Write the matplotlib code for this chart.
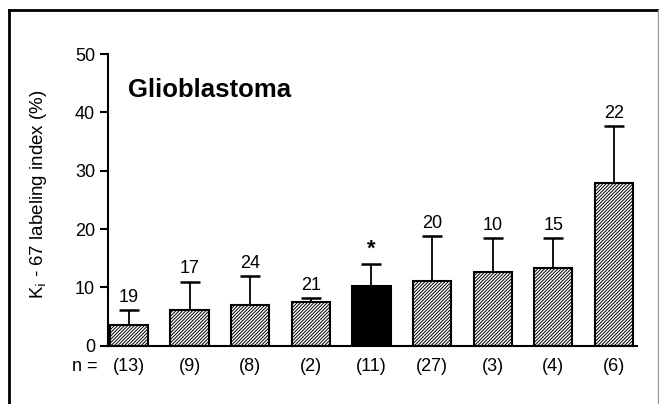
"""Ki-67 labeling index in glioblastoma subgroups (bar chart with upper SD bars)."""

import matplotlib
matplotlib.use("Agg")
import matplotlib.pyplot as plt
import numpy as np

plt.rcParams["font.family"] = ["Liberation Sans", "DejaVu Sans"]
plt.rcParams["hatch.linewidth"] = 0.7

# values
n_labels = ["(13)", "(9)", "(8)", "(2)", "(11)", "(27)", "(3)", "(4)", "(6)"]
means = [3.5, 6.2, 6.9, 7.5, 10.2, 11.1, 12.6, 13.4, 27.9]
sds = [2.6, 4.8, 5.1, 0.6, 3.8, 7.7, 5.9, 5.1, 9.8]
top_labels = ["19", "17", "24", "21", "*", "20", "10", "15", "22"]
highlight = 4  # the solid black bar


def main():
    fig = plt.figure(figsize=(6.59, 4.04), dpi=100)
    ax = fig.add_axes([0.1634, 0.1443, 0.8032, 0.722])

    x = np.arange(len(means))
    for i, (m, s) in enumerate(zip(means, sds)):
        solid = i == highlight
        ax.bar(x[i], m, width=0.63, color="black" if solid else "white",
               edgecolor="black", lw=1.5, hatch=None if solid else "//////////", zorder=2)
        ax.errorbar(x[i], m, yerr=[[0], [s]], fmt="none", ecolor="black",
                    elinewidth=1.3, capsize=7.2, capthick=1.8, zorder=1)
        ax.annotate(top_labels[i], (x[i], m + s), xytext=(0, 3),
                    textcoords="offset points", ha="center", va="bottom",
                    fontsize=16 if top_labels[i] == "*" else 13,
                    fontweight="bold" if top_labels[i] == "*" else "normal")

    ax.set_xlim(-0.35, 8.38)
    ax.set_ylim(0, 50)
    ax.set_yticks([0, 10, 20, 30, 40, 50])
    ax.set_xticks(x)
    ax.set_xticklabels(n_labels, fontsize=13)
    ax.tick_params(axis="x", length=0, pad=9)
    ax.tick_params(axis="y", direction="out", length=6, width=1.5, labelsize=13, pad=3)
    for spine in ("top", "right"):
        ax.spines[spine].set_visible(False)
    for spine in ("left", "bottom"):
        ax.spines[spine].set_linewidth(1.5)

    ax.set_ylabel("K$_\\mathrm{i}$ - 67 labeling index (%)", fontsize=13.5)
    ax.yaxis.set_label_coords(-0.11, 0.52)
    ax.text(0.038, 0.875, "Glioblastoma", transform=ax.transAxes, fontsize=18.5,
            fontweight="bold", va="center")
    # same top as the tick labels: axis bottom + pad
    fig.text(97 / 659, 1 - (345.7 + 9 * 100 / 72) / 404, "n =",
             ha="right", va="top", fontsize=13)

    # frame round the figure panel (left, top, right edges)
    fig.add_artist(plt.Line2D([9 / 659, 9 / 659], [0, 1 - 10 / 404],
                              transform=fig.transFigure, color="black", lw=2))
    fig.add_artist(plt.Line2D([9 / 659, 1], [1 - 10 / 404, 1 - 10 / 404],
                              transform=fig.transFigure, color="black", lw=2))
    fig.add_artist(plt.Line2D([657.5 / 659, 657.5 / 659], [0, 1 - 10 / 404],
                              transform=fig.transFigure, color="#999999", lw=1))

    fig.savefig("out.png", dpi=100)


if __name__ == "__main__":
    main()
